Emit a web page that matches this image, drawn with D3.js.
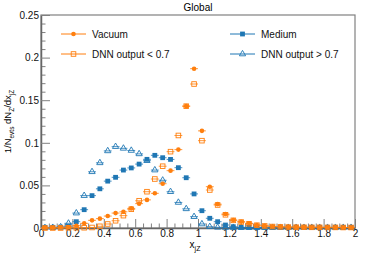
<!DOCTYPE html>
<html>
<head>
<meta charset="utf-8">
<script src="https://cdn.jsdelivr.net/npm/d3@7"></script>
<style>
  body { margin: 0; background: #fff; }
  svg { display: block; font-family: "Liberation Sans", Arial, sans-serif; }
</style>
</head>
<body>
<svg id="chart"></svg>
<script>
// bin centres (bin width 0.05)
var binCenters = [0.025, 0.075, 0.125, 0.175, 0.225, 0.275, 0.325, 0.375, 0.425, 0.475,
  0.525, 0.575, 0.625, 0.675, 0.725, 0.775, 0.825, 0.875, 0.925, 0.975,
  1.025, 1.075, 1.125, 1.175, 1.225, 1.275, 1.325, 1.375, 1.425, 1.475,
  1.525, 1.575, 1.625, 1.675, 1.725, 1.775, 1.825, 1.875, 1.925, 1.975];
var binHalfWidth = 0.025;

var vacuum = [0.0003, 0.0003, 0.0005, 0.001, 0.0027, 0.0055, 0.009, 0.011, 0.014, 0.0175,
  0.019, 0.023, 0.0286, 0.033, 0.0407, 0.052, 0.0673, 0.092, 0.143, 0.187,
  0.114, 0.0485, 0.028, 0.0164, 0.0094, 0.0074, 0.0055, 0.0035, 0.0025, 0.0018,
  0.0014, 0.0012, 0.001, 0.001, 0.0009, 0.0008, 0.0008, 0.0007, 0.0006, 0.0006];

var medium = [0.0008, 0.0008, 0.001, 0.002, 0.0074, 0.0215, 0.038, 0.046, 0.055, 0.0595,
  0.068, 0.0705, 0.075, 0.0806, 0.0853, 0.0825, 0.0805, 0.0708, 0.059, 0.040,
  0.0203, 0.0114, 0.0074, 0.0035, 0.0015, 0.0008, 0.0007, 0.0007, 0.0007, 0.0007,
  0.0007, 0.0007, 0.0007, 0.0007, 0.0007, 0.0007, 0.0007, 0.0007, 0.0006, 0.0006];

var dnnLow = [0, 0, 0, 0.0002, 0.0003, 0.0003, 0.0006, 0.002, 0.0047, 0.0085,
  0.0145, 0.022, 0.032, 0.0426, 0.0575, 0.0725, 0.0896, 0.1086, 0.143, 0.169,
  0.1025, 0.0446, 0.027, 0.0155, 0.009, 0.007, 0.005, 0.0033, 0.0024, 0.0017,
  0.0013, 0.0011, 0.001, 0.0009, 0.0008, 0.0008, 0.0007, 0.0007, 0.0006, 0.0006];

var dnnHigh = [0.0003, 0.0005, 0.0012, 0.0055, 0.0175, 0.038, 0.066, 0.0765, 0.0905, 0.0955,
  0.0935, 0.091, 0.087, 0.079, 0.068, 0.056, 0.0426, 0.030, 0.0225, 0.0133,
  0.0047, 0.0015, 0.0008, 0.0006, 0.0005, 0.0005, 0.0005, 0.0005, 0.0005, 0.0005,
  0.0005, 0.0005, 0.0005, 0.0005, 0.0005, 0.0005, 0.0005, 0.0005, 0.0005, 0.0005];

var xTickValues = [0, 0.2, 0.4, 0.6, 0.8, 1, 1.2, 1.4, 1.6, 1.8, 2];
var xTickLabels = ["0", "0.2", "0.4", "0.6", "0.8", "1", "1.2", "1.4", "1.6", "1.8", "2"];
var xMinorTicks = [0.05, 0.1, 0.15, 0.25, 0.3, 0.35, 0.45, 0.5, 0.55, 0.65, 0.7, 0.75,
  0.85, 0.9, 0.95, 1.05, 1.1, 1.15, 1.25, 1.3, 1.35, 1.45, 1.5, 1.55, 1.65, 1.7, 1.75,
  1.85, 1.9, 1.95];
var yTickValues = [0, 0.05, 0.1, 0.15, 0.2, 0.25];
var yTickLabels = ["0", "0.05", "0.1", "0.15", "0.2", "0.25"];
var yMinorTicks = [0.01, 0.02, 0.03, 0.04, 0.06, 0.07, 0.08, 0.09, 0.11, 0.12, 0.13, 0.14,
  0.16, 0.17, 0.18, 0.19, 0.21, 0.22, 0.23, 0.24];

var orange = "#ff7f0e";
var blue = "#1f77b4";

var margin = {top: 15, right: 19, bottom: 26, left: 41};
var width = 374 - margin.left - margin.right;
var height = 254 - margin.top - margin.bottom;

var svg = d3.select("#chart")
    .attr("width", 374)
    .attr("height", 254);

var g = svg.append("g")
    .attr("transform", "translate(" + margin.left + "," + margin.top + ")");

var x = d3.scaleLinear().domain([0, 2]).range([0, width]);
var y = d3.scaleLinear().domain([0, 0.25]).range([height, 0]);

// frame
g.append("rect")
    .attr("width", width)
    .attr("height", height)
    .attr("fill", "none")
    .attr("stroke", "#808080")
    .attr("stroke-width", 1.2);

// minor ticks
g.append("g")
    .attr("transform", "translate(0," + height + ")")
    .call(d3.axisBottom(x).tickValues(xMinorTicks).tickSize(-4.5).tickFormat("").tickSizeOuter(0))
    .call(function(a) { a.select(".domain").remove(); });
g.append("g")
    .call(d3.axisLeft(y).tickValues(yMinorTicks).tickSize(-4.5).tickFormat("").tickSizeOuter(0))
    .call(function(a) { a.select(".domain").remove(); });

// major axes
g.append("g")
    .attr("transform", "translate(0," + height + ")")
    .call(d3.axisBottom(x).tickValues(xTickValues).tickSize(-9).tickPadding(2).tickSizeOuter(0)
        .tickFormat(function(d, i) { return xTickLabels[i]; }));
g.append("g")
    .call(d3.axisLeft(y).tickValues(yTickValues).tickSize(-9).tickPadding(2).tickSizeOuter(0)
        .tickFormat(function(d, i) { return yTickLabels[i]; }));

g.selectAll(".tick line").attr("stroke", "#808080");
g.selectAll(".domain").attr("stroke", "#666").attr("stroke-width", 1.5);
g.selectAll(".tick text").attr("font-size", 10).attr("fill", "#111")
    .attr("font-family", "Liberation Sans, Arial, sans-serif");

// title
svg.append("text")
    .attr("x", margin.left + width / 2)
    .attr("y", 11)
    .attr("text-anchor", "middle")
    .attr("font-size", 10)
    .text("Global");

// axis titles
var xt = svg.append("text")
    .attr("x", margin.left + width / 2 - 3)
    .attr("y", 248)
    .attr("text-anchor", "middle")
    .attr("font-size", 10);
xt.append("tspan").text("x");
xt.append("tspan").attr("font-size", 7).attr("dy", 3).text("jZ");

var yt = svg.append("text")
    .attr("transform", "translate(11," + (margin.top + height / 2) + ") rotate(-90)")
    .attr("text-anchor", "middle")
    .attr("font-size", 9.5);
yt.append("tspan").text("1/N");
yt.append("tspan").attr("font-size", 6.5).attr("dy", 2.5).text("evts");
yt.append("tspan").attr("dy", -2.5).text(" dN");
yt.append("tspan").attr("font-size", 6.5).attr("dy", 2.5).text("Z");
yt.append("tspan").attr("dy", -2.5).text("/dx");
yt.append("tspan").attr("font-size", 6.5).attr("dy", 2.5).text("jZ");

// data series
var series = [
  {name: "DNN output > 0.7", values: dnnHigh, color: blue, marker: "triangle"},
  {name: "Medium", values: medium, color: blue, marker: "square"},
  {name: "DNN output < 0.7", values: dnnLow, color: orange, marker: "opensquare"},
  {name: "Vacuum", values: vacuum, color: orange, marker: "circle"}
];

function drawMarker(sel, s) {
  if (s.marker === "circle") {
    sel.append("circle").attr("r", 2.3).attr("fill", s.color);
  } else if (s.marker === "square") {
    sel.append("rect").attr("x", -2.4).attr("y", -2.4).attr("width", 4.8).attr("height", 4.8)
        .attr("fill", s.color);
  } else if (s.marker === "opensquare") {
    sel.append("rect").attr("x", -2.3).attr("y", -2.3).attr("width", 4.6).attr("height", 4.6)
        .attr("fill", "none").attr("stroke", s.color).attr("stroke-width", 0.9);
  } else {
    sel.append("path").attr("d", d3.symbol(d3.symbolTriangle).size(17)())
        .attr("fill", "none").attr("stroke", s.color).attr("stroke-width", 0.9);
  }
}

series.forEach(function(s) {
  var pts = binCenters.map(function(c, i) { return {c: c, v: s.values[i]}; });
  var sg = g.append("g");
  sg.selectAll("line")
      .data(pts)
      .enter().append("line")
      .attr("x1", function(d) { return x(d.c - binHalfWidth); })
      .attr("x2", function(d) { return x(d.c + binHalfWidth); })
      .attr("y1", function(d) { return y(d.v); })
      .attr("y2", function(d) { return y(d.v); })
      .attr("stroke", s.color)
      .attr("stroke-opacity", 0.8)
      .attr("stroke-width", 1);
  sg.selectAll("g.pt")
      .data(pts)
      .enter().append("g")
      .attr("class", "pt")
      .attr("transform", function(d) { return "translate(" + x(d.c) + "," + y(d.v) + ")"; })
      .each(function() { drawMarker(d3.select(this), s); });
});

// legend
var legendItems = [
  {s: series[3], x: 61, y: 34},
  {s: series[2], x: 61, y: 54},
  {s: series[1], x: 230, y: 34},
  {s: series[0], x: 230, y: 54}
];
legendItems.forEach(function(item) {
  var lg = svg.append("g").attr("transform", "translate(" + item.x + "," + item.y + ")");
  lg.append("line").attr("x1", 0).attr("x2", 25).attr("stroke", item.s.color).attr("stroke-width", 1);
  drawMarker(lg.append("g").attr("transform", "translate(12.5,0)"), item.s);
  lg.append("text")
      .attr("x", 31)
      .attr("y", 3.5)
      .attr("font-size", 10)
      .attr("fill", "#111")
      .text(item.s.name);
});
</script>
</body>
</html>
